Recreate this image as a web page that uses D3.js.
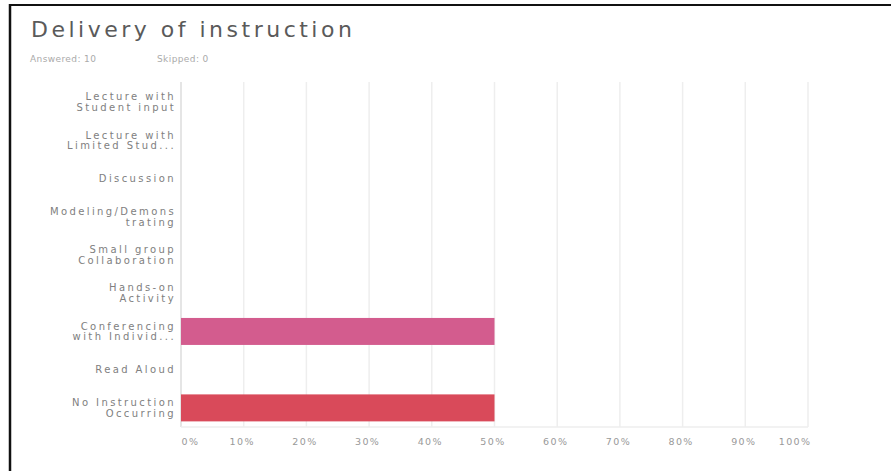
<!DOCTYPE html>
<html>
<head>
<meta charset="utf-8">
<script src="https://cdn.jsdelivr.net/npm/d3@7"></script>
<style>
  body { margin: 0; background: #fff; }
  svg { display: block; }
</style>
</head>
<body>
<div id="chart"></div>
<script>
// Answer choices (two-line labels as shown) and their share of responses
const categories = [
  ["Lecture with", "Student input"],
  ["Lecture with", "Limited Stud..."],
  ["Discussion"],
  ["Modeling/Demons", "trating"],
  ["Small group", "Collaboration"],
  ["Hands-on", "Activity"],
  ["Conferencing", "with Individ..."],
  ["Read Aloud"],
  ["No Instruction", "Occurring"]
];
const values = [0, 0, 0, 0, 0, 0, 0.5, 0, 0.5];
const barColors = ["#5b9bd5", "#5b9bd5", "#5b9bd5", "#5b9bd5", "#5b9bd5", "#5b9bd5", "#d35c8e", "#5b9bd5", "#d94a5a"];
const ticks = [0, 0.1, 0.2, 0.3, 0.4, 0.5, 0.6, 0.7, 0.8, 0.9, 1.0];

const W = 891, H = 471;
const margin = { top: 83, right: 83, bottom: 44, left: 181 };
const width = W - margin.left - margin.right,
      height = H - margin.top - margin.bottom;

const svg = d3.select("#chart").append("svg")
  .attr("width", W)
  .attr("height", H);

// frame edges (top and left only, as in the screenshot)
svg.append("line").attr("x1", 9).attr("x2", W).attr("y1", 5).attr("y2", 5)
  .attr("stroke", "#111").attr("stroke-width", 2);
svg.append("line").attr("x1", 10).attr("x2", 10).attr("y1", 4).attr("y2", H)
  .attr("stroke", "#111").attr("stroke-width", 2.5);

svg.append("text")
  .attr("x", 31).attr("y", 37)
  .style("font-family", "DejaVu Sans")
  .style("font-size", "22px")
  .style("letter-spacing", "3.5px")
  .style("fill", "#5a5a5a")
  .text("Delivery of instruction");

svg.append("text")
  .attr("x", 30).attr("y", 62)
  .style("font-family", "DejaVu Sans")
  .style("font-size", "9px")
  .style("letter-spacing", "0.4px")
  .style("fill", "#aaa")
  .text("Answered: 10");
svg.append("text")
  .attr("x", 157).attr("y", 62)
  .style("font-family", "DejaVu Sans")
  .style("font-size", "9px")
  .style("letter-spacing", "0.4px")
  .style("fill", "#aaa")
  .text("Skipped: 0");

const g = svg.append("g").attr("transform", `translate(${margin.left},${margin.top})`);

const x = d3.scaleLinear().domain([0, 1]).range([0, width]);
const y = d3.scaleBand().domain(d3.range(categories.length)).range([0, height])
  .paddingInner(0.294).paddingOuter(0.147);

// vertical gridlines
g.selectAll(".grid")
  .data(ticks)
  .join("line")
  .attr("x1", d => x(d)).attr("x2", d => x(d))
  .attr("y1", -1).attr("y2", height)
  .attr("stroke", d => d === 0 ? "#ddd" : "#eee")
  .attr("stroke-width", 1.5);

// bottom baseline
g.append("line")
  .attr("x1", 0).attr("x2", width)
  .attr("y1", height).attr("y2", height)
  .attr("stroke", "#eee").attr("stroke-width", 1.5);

// bars
g.selectAll(".bar")
  .data(values)
  .join("rect")
  .attr("x", 0)
  .attr("y", (d, i) => y(i))
  .attr("width", d => x(d))
  .attr("height", y.bandwidth())
  .attr("fill", (d, i) => barColors[i]);

// x axis labels
const xAxis = g.append("g")
  .attr("transform", `translate(0,${height})`)
  .call(d3.axisBottom(x).tickValues(ticks).tickFormat(d3.format(".0%")).tickSize(0).tickPadding(11));
xAxis.select(".domain").remove();
xAxis.selectAll("text")
  .style("font-family", "DejaVu Sans")
  .style("font-size", "9.5px")
  .style("letter-spacing", "1.4px")
  .style("fill", "#999")
  .attr("text-anchor", d => d === 0 ? "start" : d === 1 ? "end" : "middle")
  .attr("dx", d => d === 0 ? 0 : d === 1 ? 3 : -2);

// y labels
const yLab = g.selectAll(".ylab")
  .data(categories)
  .join("text")
  .attr("text-anchor", "end")
  .attr("transform", (d, i) => `translate(-5,${y(i) + y.bandwidth() / 2})`)
  .style("font-family", "DejaVu Sans")
  .style("font-size", "10px")
  .style("letter-spacing", "2.4px")
  .style("fill", "#808080");
yLab.selectAll("tspan")
  .data(d => d.map((t, j) => ({ t, j, n: d.length })))
  .join("tspan")
  .attr("x", 0)
  .attr("y", d => (d.j - (d.n - 1) / 2) * 10.5)
  .attr("dy", "0.35em")
  .text(d => d.t);
</script>
</body>
</html>
